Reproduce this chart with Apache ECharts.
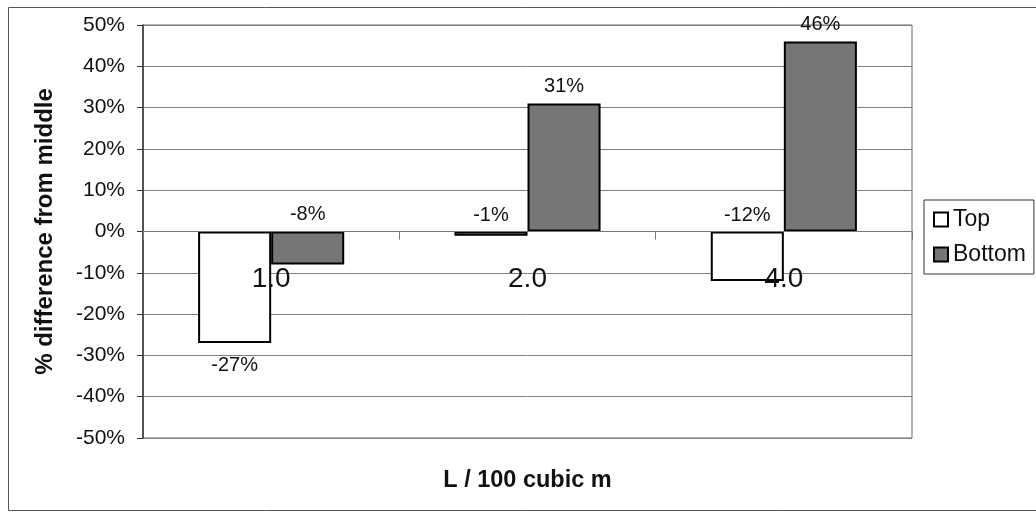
<!DOCTYPE html>
<html>
<head>
<meta charset="utf-8">
<script src="https://cdn.jsdelivr.net/npm/echarts@6/dist/echarts.min.js"></script>
<style>
  html, body { margin: 0; padding: 0; background: #fff; }
  #chart { width: 1036px; height: 515px; }
</style>
</head>
<body>
<div id="chart"></div>
<script>
// Flow categories (L / 100 cubic m)
const categories = ['1.0', '2.0', '4.0'];
// % difference from the middle position
const topValues = [-27, -1, -12];
const bottomValues = [-8, 31, 46];
// value-axis range
const yMin = -50, yMax = 50, yStep = 10;

const FONT = '"Liberation Sans", Arial, sans-serif';

const chart = echarts.init(document.getElementById('chart'), null, { renderer: 'canvas' });

const GRID = { left: 143, top: 25, right: 124, bottom: 77 };
const W = 1036, H = 515;
// the category axis sits on the 0% line: shift it up from the plot bottom
const plotH = H - GRID.top - GRID.bottom;
const zeroShift = -plotH * (0 - yMin) / (yMax - yMin);

const labelBase = {
  show: true,
  color: '#111',
  fontFamily: FONT,
  fontSize: 20,
  formatter: p => p.value + '%'
};

const option = {
  backgroundColor: '#fff',
  animation: false,
  grid: Object.assign({
    show: true, borderColor: '#666', borderWidth: 1, backgroundColor: 'transparent'
  }, GRID),
  legend: {
    orient: 'vertical',
    left: 924, top: 200,
    padding: [8, 8, 8, 9],
    itemGap: 12,
    itemWidth: 14, itemHeight: 14,
    icon: 'rect',
    borderColor: '#333', borderWidth: 1,
    textStyle: { fontFamily: FONT, fontSize: 23, color: '#111' },
    data: ['Top', 'Bottom']
  },
  xAxis: {
    type: 'category',
    data: categories,
    position: 'bottom',
    offset: zeroShift,
    z: 10,
    axisLine: { onZero: false, lineStyle: { color: '#777', width: 1 } },
    axisTick: { show: true, length: 8, lineStyle: { color: '#777' } },
    axisLabel: { fontFamily: FONT, fontSize: 28, color: '#111', margin: 34 },
    splitLine: { show: false }
  },
  yAxis: {
    type: 'value',
    min: yMin, max: yMax, interval: yStep,
    name: '% difference from middle',
    nameLocation: 'middle',
    nameGap: 86,
    nameTextStyle: { fontFamily: FONT, fontSize: 24, fontWeight: 'bold', color: '#111' },
    axisLine: { show: true, lineStyle: { color: '#333', width: 1.5 } },
    axisTick: { show: true, length: 6, lineStyle: { color: '#333' } },
    axisLabel: { fontFamily: FONT, fontSize: 21, color: '#111', margin: 18, formatter: '{value}%' },
    splitLine: { show: true, lineStyle: { color: '#808080', width: 1 } }
  },
  series: [{
    name: 'Top',
    type: 'bar',
    barGap: '0%',
    barCategoryGap: '43%',
    z: 3,
    itemStyle: { color: '#fff', borderColor: '#000', borderWidth: 2 },
    data: topValues.map((v, i) => ({
      value: v,
      label: Object.assign({}, labelBase, i === 0
        ? { position: 'bottom', distance: 12 }
        : { position: 'top', distance: 6 })
    }))
  }, {
    name: 'Bottom',
    type: 'bar',
    barGap: '0%',
    barCategoryGap: '43%',
    z: 3,
    itemStyle: { color: '#767676', borderColor: '#000', borderWidth: 2 },
    label: Object.assign({}, labelBase, { position: 'top', distance: 7 }),
    data: bottomValues
  }],
  graphic: [{
    // outer chart frame
    type: 'rect',
    silent: true,
    z: -1,
    shape: { x: 8.5, y: 7.5, width: 1040, height: 503 },
    style: { fill: 'none', stroke: '#555', lineWidth: 1 }
  }, {
    // category axis title, centred under the plot area
    type: 'text',
    silent: true,
    x: GRID.left + (W - GRID.left - GRID.right) / 2,
    y: 481,
    style: {
      text: 'L / 100 cubic m',
      fontFamily: FONT, fontSize: 23.5, fontWeight: 'bold', fill: '#111',
      align: 'center', verticalAlign: 'middle'
    }
  }]
};

chart.setOption(option);
</script>
</body>
</html>
